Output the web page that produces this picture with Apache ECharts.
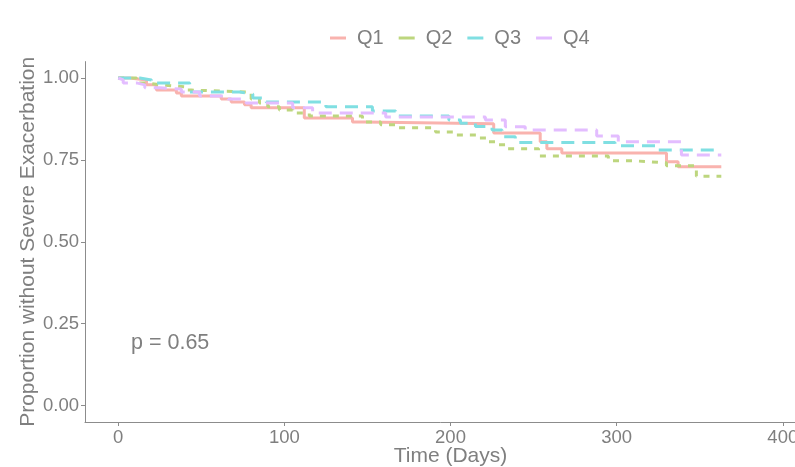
<!DOCTYPE html>
<html>
<head>
<meta charset="utf-8">
<script src="https://cdn.jsdelivr.net/npm/echarts@6/dist/echarts.min.js"></script>
<style>
  html, body { margin: 0; padding: 0; background: #fff; }
  #main { width: 795px; height: 467px; }
</style>
</head>
<body>
<div id="main"></div>
<script>
// step curve data (days / proportion)
var q1Days = [0, 7, 17, 23, 35, 38, 62, 68, 76, 80, 112, 141, 148, 226, 254, 258, 267, 330, 337, 363];
var q1Vals = [1, 0.994, 0.979, 0.963, 0.954, 0.945, 0.936, 0.927, 0.918, 0.909, 0.878, 0.866, 0.860, 0.832, 0.805, 0.784, 0.771, 0.744, 0.729, 0.729];

var q2Days = [0, 11, 17, 26, 40, 44, 80, 85, 90, 97, 105, 115, 147, 158, 169, 191, 203, 217, 222, 229, 233, 253, 295, 311, 330, 348, 363];
var q2Vals = [1, 0.985, 0.979, 0.973, 0.963, 0.957, 0.936, 0.924, 0.912, 0.902, 0.893, 0.884, 0.866, 0.857, 0.848, 0.835, 0.826, 0.817, 0.805, 0.796, 0.784, 0.762, 0.747, 0.741, 0.732, 0.700, 0.700];

var q3Days = [0, 13, 20, 43, 73, 81, 89, 125, 153, 167, 199, 206, 215, 225, 231, 239, 299, 325, 363];
var q3Vals = [1, 0.994, 0.985, 0.957, 0.951, 0.939, 0.927, 0.912, 0.899, 0.884, 0.872, 0.862, 0.852, 0.841, 0.821, 0.803, 0.793, 0.780, 0.780];

var q4Days = [0, 1, 3, 11, 16, 25, 38, 49, 66, 77, 105, 117, 161, 221, 233, 245, 288, 301, 339, 363];
var q4Vals = [1, 0.994, 0.985, 0.979, 0.970, 0.966, 0.957, 0.945, 0.936, 0.924, 0.909, 0.893, 0.881, 0.872, 0.851, 0.841, 0.823, 0.805, 0.765, 0.765];

var xTicks = [0, 100, 200, 300, 400];
var yTicks = [0, 0.25, 0.5, 0.75, 1];
var pText = 'p = 0.65';

function pairs(xs, ys) {
    return xs.map(function(x, i) { return [x, ys[i]]; });
}

function km(name, xs, ys, color, dash) {
    return {
        name: name,
        type: 'line',
        step: 'end',
        showSymbol: false,
        symbol: 'none',
        data: pairs(xs, ys),
        itemStyle: { color: color },
        lineStyle: { color: color, width: 3, type: dash },
        emphasis: { disabled: true }
    };
}

var myChart = echarts.init(document.getElementById('main'));
var grey = '#7f7f7f';
var option = {
    animation: false,
    textStyle: { fontFamily: 'Liberation Sans, Arial, sans-serif' },
    legend: {
        data: ['Q1', 'Q2', 'Q3', 'Q4'],
        icon: 'rect',
        left: 325,
        top: 23,
        itemWidth: 16,
        itemHeight: 3,
        itemGap: 15,
        textStyle: { fontSize: 20, color: grey, padding: [0, 0, 0, 6] }
    },
    grid: {
        left: 85,
        right: -21,
        top: 61.6,
        bottom: 45,
        outerBoundsMode: 'none',
        containLabel: false
    },
    xAxis: {
        type: 'value',
        min: -20,
        max: 420,
        interval: 100,
        name: 'Time (Days)',
        nameLocation: 'middle',
        nameGap: 24,
        nameMoveOverlap: false,
        nameTextStyle: { fontSize: 21, color: grey },
        axisLine: { onZero: false, lineStyle: { color: '#8c8c8c', width: 1 } },
        axisTick: { show: true, length: 4, lineStyle: { color: '#8c8c8c' }, customValues: xTicks },
        axisLabel: { fontSize: 18.5, color: grey, margin: 6, customValues: xTicks },
        splitLine: { show: false }
    },
    yAxis: {
        type: 'value',
        min: -0.05,
        max: 1.05,
        name: 'Proportion without Severe Exacerbation',
        nameLocation: 'middle',
        nameGap: 46,
        nameMoveOverlap: false,
        nameTextStyle: { fontSize: 21, color: grey },
        axisLine: { show: true, onZero: false, lineStyle: { color: '#8c8c8c', width: 1 } },
        axisTick: { show: true, length: 4, lineStyle: { color: '#8c8c8c' }, customValues: yTicks },
        axisLabel: {
            fontSize: 18.5, color: grey, margin: 6, customValues: yTicks,
            formatter: function(v) { return v.toFixed(2); }
        },
        splitLine: { show: false }
    },
    graphic: [{
        type: 'text',
        left: 131,
        top: 332,
        style: { text: pText, fontSize: 21.5, fill: grey, fontFamily: 'Liberation Sans, Arial, sans-serif' }
    }],
    series: [
        km('Q1', q1Days, q1Vals, '#f9b3ae', 'solid'),
        km('Q2', q2Days, q2Vals, '#bdd67e', [6, 7]),
        km('Q3', q3Days, q3Vals, '#80dfe2', [13, 8]),
        km('Q4', q4Days, q4Vals, '#e3bdff', [13, 8])
    ]
};
myChart.setOption(option);
</script>
</body>
</html>
